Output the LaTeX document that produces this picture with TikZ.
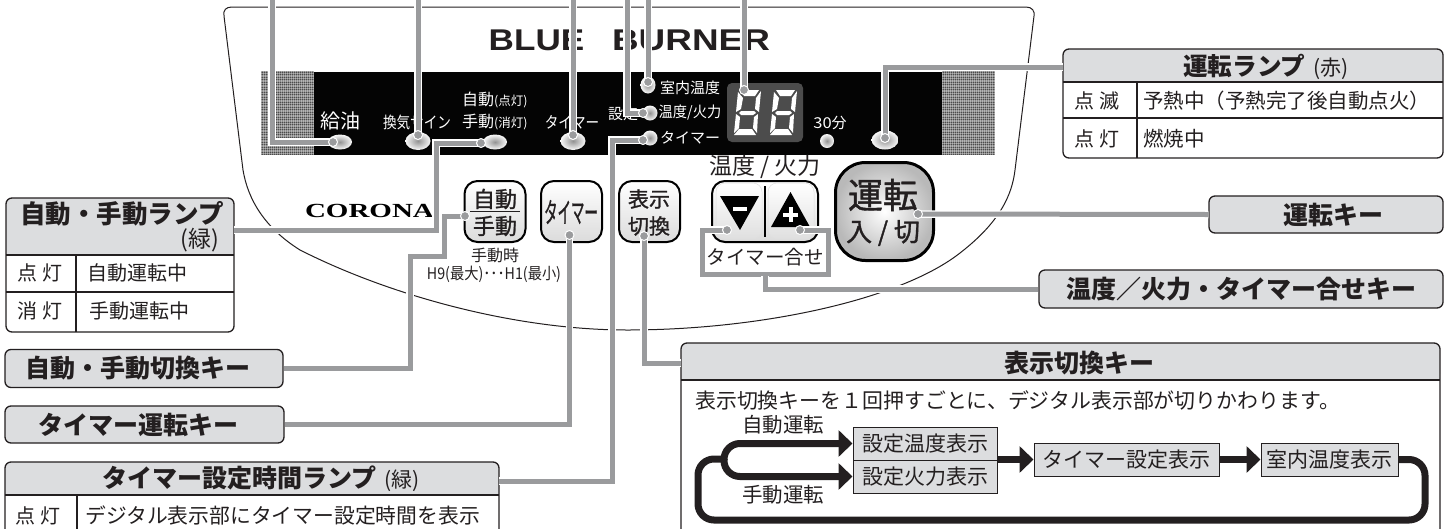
\documentclass[tikz,border=0pt]{standalone}
\usepackage{fontspec}
\usepackage{graphicx}
\setmainfont{Noto Sans CJK JP}
\newfontfamily\latinb{Liberation Sans}
\newfontfamily\serifb{Liberation Serif}
\newfontfamily\med[FakeBold=1.2]{Noto Sans CJK JP}
\usetikzlibrary{shapes.geometric,arrows.meta}
\definecolor{ink}{HTML}{231F20}
\definecolor{leadgray}{HTML}{9A9B9D}
\definecolor{hdr}{HTML}{DCDDDF}
\newcommand{\fs}[1]{\fontsize{#1pt}{#1pt}\selectfont}
\newcommand{\sq}[2]{\scalebox{#1}[1]{#2}}
\newcommand{\segdigit}[2]{%
 \begin{scope}[shift={(#1,#2)},fill=white]
 \fill (5,0)--(24,0)--(20,6)--(9,6)--cycle;
 \fill (3,2)--(8,8)--(6,19)--(1,22)--cycle;
 \fill (26,1)--(21,8)--(20,19)--(24,22)--cycle;
 \fill (6,21)--(19,21)--(21,23)--(18,25)--(6,25)--(4,23)--cycle;
 \fill (1,24)--(5,27)--(4,38)--(-1,43)--cycle;
 \fill (23,24)--(19,27)--(18,38)--(22,43)--cycle;
 \fill (4,39)--(17,39)--(21,45)--(-1,45)--cycle;
 \end{scope}}
\newcommand{\texture}[2]{%
 \begin{scope}
 \clip (#1,71) rectangle (#2,155);
 \fill[gray!90] (#1,71) rectangle (#2,155);
 \foreach \yy in {72,74.5,...,155} \draw[black!70,line width=.8pt] (#1,\yy) -- (#2,\yy);
 \foreach \xx in {0,2,...,56} \draw[white,opacity=.35,line width=.8pt] (#1+\xx,71) -- (#1+\xx,155);
 \end{scope}}
\tikzset{
 leader/.style={preaction={draw=white,line width=7.5pt},draw=leadgray,line width=5pt,line join=miter},
 dot/.style={circle,fill=leadgray,draw=white,line width=1pt,minimum size=9pt,inner sep=0pt},
 lamp/.style={ellipse,inner sep=0pt,draw=none,shading=radial,inner color=gray!85,outer color=gray!5},
 keybox/.style={rectangle,rounded corners=13pt,draw=black,line width=2pt,inner sep=0pt,top color=white,bottom color=gray!28},
 keycap/.style={rectangle,rounded corners=9pt,inner sep=0pt,draw=gray!25,line width=.5pt,top color=white,bottom color=gray!25},
 titlebox/.style={rectangle,rounded corners=6pt,draw=ink,line width=1.3pt,fill=hdr,inner sep=0pt,font=\fs{25}\bfseries,text=ink},
 tb/.style={draw=ink,line width=1.3pt},
 tt/.style={inner sep=0pt,text=ink},
 panel/.style={inner sep=0pt,text=white},
 flowbox/.style={rectangle,draw=ink,line width=1pt,fill=hdr,inner sep=0pt,font=\fs{21},text=ink},
 flow/.style={draw=ink,line width=7pt,rounded corners=16pt},
 flowhead/.style={-{Triangle[length=14pt,width=26pt]}},
}
\begin{document}
\begin{tikzpicture}[x=1pt,y=-1pt]
\useasboundingbox (0,0) rectangle (1450,528);
% body outline
\draw[ink,line width=1pt] (232,7) -- (1026,7) .. controls (1032,7) and (1035,11) .. (1034,16)
  -- (1015,170) .. controls (1012,195) and (1000,222) .. (960,253)
  .. controls (900,300) and (760,330) .. (627,330)
  .. controls (520,330) and (395,298) .. (300,250)
  .. controls (265,228) and (248,200) .. (243,170) -- (224,16)
  .. controls (223,10) and (226,7) .. (232,7) -- cycle;
% panel
\node[tt,font=\latinb\fs{30}\bfseries,text=ink] (brandA) at (536.5,40) {\sq{1.17}{BLUE}};
\node[tt,font=\latinb\fs{30}\bfseries,text=ink] (brandB) at (691,40) {\sq{1.23}{BURNER}};
\texture{261}{314}
\texture{942}{995}
\fill[black!88!ink] (314,72) rectangle (942,155);
\fill[black!70] (727,83) [rounded corners=5pt] rectangle (803,142);
\segdigit{735}{90}
\segdigit{771}{90}
% panel labels
\node[panel,font=\fs{20}] (tKyuyu) at (340,121) {給油};
\node[panel,font=\fs{16}] (tKanki) at (417,122) {\sq{.85}{換気サイン}};
\node[panel,font=\fs{16},anchor=west] (tAuto) at (462,100) {自動\fs{12.5}(点灯)};
\node[panel,font=\fs{16},anchor=west] (tMan) at (462,122) {手動\fs{12.5}(消灯)};
\node[panel,font=\fs{16}] (tTimer) at (572,122) {\sq{.85}{タイマー}};
\node[panel,font=\fs{15}] (tSet) at (623,114) {設定};
\node[panel,font=\fs{15}] (tRoom) at (690,88) {室内温度};
\node[panel,font=\fs{15}] (tTemp) at (690,113) {\sq{.95}{温度/火力}};
\node[panel,font=\fs{15}] (tTim2) at (690,138) {タイマー};
\node[panel,font=\fs{15}] (t30) at (830,123) {\sq{1.1}{30}分};
% lamps
\node[lamp,minimum width=24pt,minimum height=15pt] (lKyuyu) at (340,142) {};
\node[lamp,minimum width=25pt,minimum height=18pt] (lKanki) at (418,141) {};
\node[lamp,minimum width=24pt,minimum height=15pt] (lAuto) at (495,142) {};
\node[lamp,minimum width=25pt,minimum height=18pt] (lTimer) at (573,141) {};
\node[lamp,minimum width=15pt,minimum height=17pt] (lRoom) at (648,85) {};
\node[lamp,minimum width=15pt,minimum height=15pt] (lSet) at (650,113) {};
\node[lamp,minimum width=15pt,minimum height=15pt] (lTim2) at (650,138) {};
\node[lamp,minimum width=14pt,minimum height=14pt] (l30) at (827,141) {};
\node[lamp,minimum width=27pt,minimum height=19pt] (lRun) at (885,140) {};
% brand and keys
\node[tt,font=\serifb\fs{20}\bfseries,text=black] (corona) at (369.5,211) {\sq{1.45}{CORONA}};
\node[keybox,minimum width=61pt,minimum height=61pt] (kAuto) at (495,211.5) {};
\node[tt,font=\med\fs{22}] (kAutoA) at (495,199) {自動};
\node[tt,font=\med\fs{22}] (kAutoB) at (495,226) {手動};
\draw[ink,line width=1pt] (470,211) -- (520,211);
\node[tt,font=\fs{16}] (tHand) at (495,255) {手動時};
\node[tt,font=\fs{16}] (tH9) at (494,274) {\sq{.89}{H9(最大)･･･H1(最小)}};
\node[keybox,minimum width=61pt,minimum height=61pt] (kTimer) at (571.5,211.5) {};
\node[tt,font=\med\fs{28}] (kTimerT) at (571,212) {\sq{.48}{タイマー}};
\node[keybox,minimum width=61pt,minimum height=61pt] (kDisp) at (649.5,211.5) {};
\node[tt,font=\med\fs{21}] (kDispA) at (649,199) {表示};
\node[tt,font=\med\fs{21}] (kDispB) at (649,226) {切換};
\node[keybox,minimum width=106pt,minimum height=61pt] (kDual) at (765,211.5) {};
\node[keycap,minimum width=46pt,minimum height=56pt] (kDown) at (739,211) {};
\node[keycap,minimum width=46pt,minimum height=56pt] (kUp) at (791,211) {};
\draw[black,line width=1.5pt] (765,186) -- (765,237);
\fill[black] (720,196) -- (759,196) -- (740,230) -- cycle;
\fill[white] (733,207) rectangle (747,211);
\fill[black] (771,227) -- (810,227) -- (790.5,192) -- cycle;
\fill[white] (783,212.5) rectangle (798,216.5);
\fill[white] (788.5,207) rectangle (792.5,222);
\node[tt,font=\fs{23}] (tTemp2) at (765,167) {温度 / 火力};
\node[tt,font=\fs{19.5}] (tAdj) at (765,257) {タイマー合せ};
\node[rectangle,rounded corners=30pt,draw=black,line width=3pt,inner sep=0pt,minimum width=98pt,minimum height=98pt,shading=radial,inner color=white,outer color=gray!55] (kRun) at (884.5,211.5) {};
\node[tt,font=\med\fs{35}] (kRunA) at (883,195) {運転};
\node[tt,font=\med\fs{26}] (kRunB) at (883,233) {入 / 切};
% tables and title boxes
\begin{scope}
 \path[fill=white,rounded corners=6pt] (6,198) rectangle (234,332);
 \fill[hdr,rounded corners=6pt] (6,255) -- (6,198) -- (234,198) -- (234,255) -- cycle;
 \fill[hdr] (6,240) rectangle (234,255);
 \draw[tb,rounded corners=6pt] (6,198) rectangle (234,332);
 \draw[tb] (6,255) -- (234,255) (6,292) -- (234,292) (76,255) -- (76,332);
\end{scope}
\coordinate (tblAuto) at (234,230);
\node[tt,font=\fs{25.5}\bfseries] (hAuto) at (122,214) {自動・手動ランプ};
\node[tt,font=\fs{23},anchor=east] (hAutoB) at (219,240) {(緑)};
\node[tt,font=\fs{20}] (cA1) at (40,273) {点 灯};
\node[tt,font=\fs{20},anchor=west] (cA2) at (87,273) {自動運転中};
\node[tt,font=\fs{20}] (cA3) at (40,311) {消 灯};
\node[tt,font=\fs{20},anchor=west] (cA4) at (89,311) {手動運転中};
% timer table (runs off the bottom)
\fill[hdr,rounded corners=6pt] (5,495) -- (5,462) -- (499,462) -- (499,495) -- cycle;
\fill[hdr] (5,485) rectangle (499,495);
\draw[tb,rounded corners=6pt] (5,530) -- (5,462) -- (499,462) -- (499,530);
\draw[tb] (5,495) -- (499,495) (77,495) -- (77,530);
\coordinate (tblTimer) at (499,481);
\node[tt,font=\fs{25}\bfseries] (hTimer) at (261,479) {タイマー設定時間ランプ\hspace{8pt}\mdseries\fs{21}(緑)};
\node[tt,font=\fs{20}] (cT1) at (38,516) {点 灯};
\node[tt,font=\fs{20.8},anchor=west] (cT2) at (85,516) {デジタル表示部にタイマー設定時間を表示};
% run table
\fill[hdr,rounded corners=6pt] (1063,82) -- (1063,49) -- (1443,49) -- (1443,82) -- cycle;
\fill[hdr] (1063,72) rectangle (1443,82);
\draw[tb,rounded corners=6pt] (1063,49) rectangle (1443,158);
\draw[tb] (1063,82) -- (1443,82) (1063,118) -- (1443,118) (1137,82) -- (1137,158);
\coordinate (tblRun) at (1063,67);
\node[tt,font=\fs{24.6}\bfseries] (hRun) at (1266,67) {運転ランプ\hspace{8pt}\mdseries\fs{21}(赤)};
\node[tt,font=\fs{20}] (cR1) at (1097,101) {点 滅};
\node[tt,font=\fs{20.5},anchor=west] (cR2) at (1143,101) {予熱中（予熱完了後自動点火）};
\node[tt,font=\fs{20}] (cR3) at (1097,139) {点 灯};
\node[tt,font=\fs{20.5},anchor=west] (cR4) at (1143,139) {燃焼中};
% title boxes
\node[titlebox,minimum width=234pt,minimum height=37pt] (bRun) at (1326,214.5) {\hspace*{14pt}運転キー};
\node[titlebox,minimum width=404pt,minimum height=38pt] (bTemp) at (1241,289) {温度／火力・タイマー合せキー};
\node[titlebox,minimum width=278pt,minimum height=38pt] (bAuto) at (144,368.5) {\hspace*{-12pt}自動・手動切換キー};
\node[titlebox,minimum width=279pt,minimum height=37pt] (bTimer) at (144.5,424.5) {\hspace*{-12pt}タイマー運転キー};
% display-switch table (runs off the bottom)
\fill[hdr,rounded corners=6pt] (681,380) -- (681,343) -- (1440,343) -- (1440,380) -- cycle;
\fill[hdr] (681,370) rectangle (1440,380);
\draw[tb,rounded corners=6pt] (681,530) -- (681,343) -- (1440,343) -- (1440,530);
\draw[tb] (681,380) -- (1440,380);
\coordinate (tblDisp) at (681,363);
\node[tt,font=\fs{25}\bfseries] (hDisp) at (1079,363) {表示切換キー};
\node[tt,font=\fs{20.9},anchor=west] (dDisp) at (695,400) {表示切換キーを１回押すごとに、デジタル表示部が切りかわります。};
% flow
\node[tt,font=\fs{20.5}] (fAuto) at (783,425) {自動運転};
\node[tt,font=\fs{20.5}] (fMan) at (783,495) {手動運転};
\node[flowbox,minimum width=144pt,minimum height=33pt] (f1) at (925,443.5) {設定温度表示};
\node[flowbox,minimum width=144pt,minimum height=33pt] (f2) at (925,476.5) {設定火力表示};
\node[flowbox,minimum width=185pt,minimum height=33pt] (f3) at (1126.5,459.5) {タイマー設定表示};
\node[flowbox,minimum width=137pt,minimum height=33pt] (f4) at (1329.5,459.5) {室内温度表示};
\coordinate (fork) at (724,459);
\draw[flow] (f4.east) -- (1425,459.5) -- (1425,520) -- (698,520) -- (698,459) -- (fork);
\draw[flow,flowhead] (fork) -- (724,443.5) -- (f1.west);
\draw[flow,flowhead] (fork) -- (724,476.5) -- (f2.west);
\draw[flow,flowhead,rounded corners=0pt] (997,459.5) -- (f3.west);
\draw[flow,flowhead,rounded corners=0pt] (f3.east) -- (f4.west);
% leaders
\draw[leader] (272,0) -- (272,142) -- (333,142) node[dot]{};
\draw[leader] (418,0) -- (418,135) node[dot]{};
\draw[leader] (tblAuto) -- (436,230) -- (436,143) -- (481,143) node[dot]{};
\draw[leader] (573,0) -- (573,135) node[dot]{};
\draw[leader] (627,0) -- (627,113) -- (643,113) node[dot]{};
\draw[leader] (648,0) -- (648,82) node[dot]{};
\draw[leader] (744,0) -- (744,90) node[dot]{};
\draw[leader] (tblTimer) -- (612,481) -- (612,140) -- (643,140) node[dot]{};
\draw[leader] (tblRun) -- (885,67) -- (885,138) node[dot]{};
\draw[leader] (bAuto.east) -- (410,368.5) -- (410,256) -- (444,256) -- (444,216) -- (465,216) node[dot]{};
\draw[leader] (bTimer.east) -- (569.5,424.5) -- (569.5,235) node[dot]{};
\draw[leader] (tblDisp) -- (644,363) -- (644,236) node[dot]{};
\draw[leader] (bRun.west) -- (918,214) node[dot]{};
\draw[leader] (727,230) node[dot]{} -- (702,230) -- (702,274) -- (828,274) -- (828,230) -- (800,230) node[dot]{};
\draw[leader] (bTemp.west) -- (765,289) -- (765,276);
\end{tikzpicture}
\end{document}
